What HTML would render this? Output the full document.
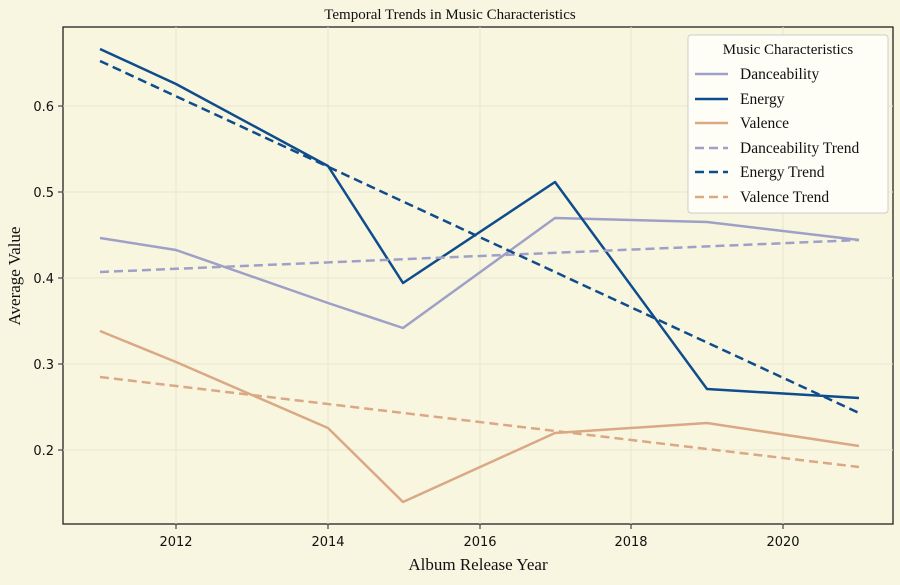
<!DOCTYPE html>
<html><head><style>body{margin:0;background:#f8f6e1;}</style></head><body>
<svg width="900" height="580" xmlns="http://www.w3.org/2000/svg" font-family="Liberation Serif, serif">
<rect width="900" height="580" fill="#f8f6e1"/>
<rect x="63" y="27" width="830" height="497" fill="#f8f6df" stroke="#222" stroke-width="1.3"/>
<g stroke="#eae7d2" stroke-width="1">
<line x1="176" y1="27" x2="176" y2="524"/><line x1="328" y1="27" x2="328" y2="524"/><line x1="480" y1="27" x2="480" y2="524"/><line x1="631" y1="27" x2="631" y2="524"/><line x1="783" y1="27" x2="783" y2="524"/>
<line x1="63" y1="106" x2="893" y2="106"/><line x1="63" y1="192" x2="893" y2="192"/><line x1="63" y1="278" x2="893" y2="278"/><line x1="63" y1="364" x2="893" y2="364"/><line x1="63" y1="450" x2="893" y2="450"/>
</g>
<g stroke="#222" stroke-width="1">
<line x1="176" y1="524" x2="176" y2="529"/><line x1="328" y1="524" x2="328" y2="529"/><line x1="480" y1="524" x2="480" y2="529"/><line x1="631" y1="524" x2="631" y2="529"/><line x1="783" y1="524" x2="783" y2="529"/>
<line x1="58" y1="106" x2="63" y2="106"/><line x1="58" y1="192" x2="63" y2="192"/><line x1="58" y1="278" x2="63" y2="278"/><line x1="58" y1="364" x2="63" y2="364"/><line x1="58" y1="450" x2="63" y2="450"/>
</g>
<g font-family="DejaVu Sans, sans-serif" font-size="13" fill="#111">
<text x="176" y="546" text-anchor="middle">2012</text><text x="328" y="546" text-anchor="middle">2014</text><text x="480" y="546" text-anchor="middle">2016</text><text x="631" y="546" text-anchor="middle">2018</text><text x="783" y="546" text-anchor="middle">2020</text>
<g text-anchor="end"><text x="54" y="111">0.6</text><text x="54" y="197">0.5</text><text x="54" y="283">0.4</text><text x="54" y="369">0.3</text><text x="54" y="455">0.2</text></g>
</g>
<text x="450" y="19" text-anchor="middle" font-size="15" fill="#111">Temporal Trends in Music Characteristics</text>
<text x="478" y="570" text-anchor="middle" font-size="17" fill="#111">Album Release Year</text>
<text transform="translate(20,276) rotate(-90)" text-anchor="middle" font-size="17" fill="#111">Average Value</text>
<g fill="none" stroke-width="2.5" stroke-linejoin="round">
<polyline stroke="#9fa0c8" points="100,238 176,250 328,303 403,328 555,218 707,222 859,240"/>
<polyline stroke="#0f4c8c" points="100,49 176,84 328,166 403,283 555,182 707,389 859,398"/>
<polyline stroke="#dba885" points="100,331 176,362 328,428 403,502 555,433 707,423 859,446"/>
<line stroke="#9fa0c8" stroke-dasharray="9,5" x1="100" y1="272" x2="859" y2="240"/>
<line stroke="#0f4c8c" stroke-dasharray="9,5" x1="100" y1="61" x2="859" y2="413"/>
<line stroke="#dba885" stroke-dasharray="9,5" x1="100" y1="377" x2="859" y2="467"/>
</g>
<rect x="688" y="35" width="200" height="178" rx="3" fill="#fffef6" stroke="#ccc" stroke-width="1"/>
<text x="788" y="54" text-anchor="middle" font-size="15" fill="#111">Music Characteristics</text>
<g stroke-width="2.5">
<line x1="695" y1="74" x2="728" y2="74" stroke="#9fa0c8"/>
<line x1="695" y1="99" x2="728" y2="99" stroke="#0f4c8c"/>
<line x1="695" y1="123" x2="728" y2="123" stroke="#dba885"/>
<line x1="695" y1="148" x2="728" y2="148" stroke="#9fa0c8" stroke-dasharray="9,5"/>
<line x1="695" y1="172" x2="728" y2="172" stroke="#0f4c8c" stroke-dasharray="9,5"/>
<line x1="695" y1="197" x2="728" y2="197" stroke="#dba885" stroke-dasharray="9,5"/>
</g>
<g font-size="15.5" fill="#111">
<text x="740" y="79">Danceability</text><text x="740" y="104">Energy</text><text x="740" y="128">Valence</text>
<text x="740" y="153">Danceability Trend</text><text x="740" y="177">Energy Trend</text><text x="740" y="202">Valence Trend</text>
</g>
</svg>
</body></html>
